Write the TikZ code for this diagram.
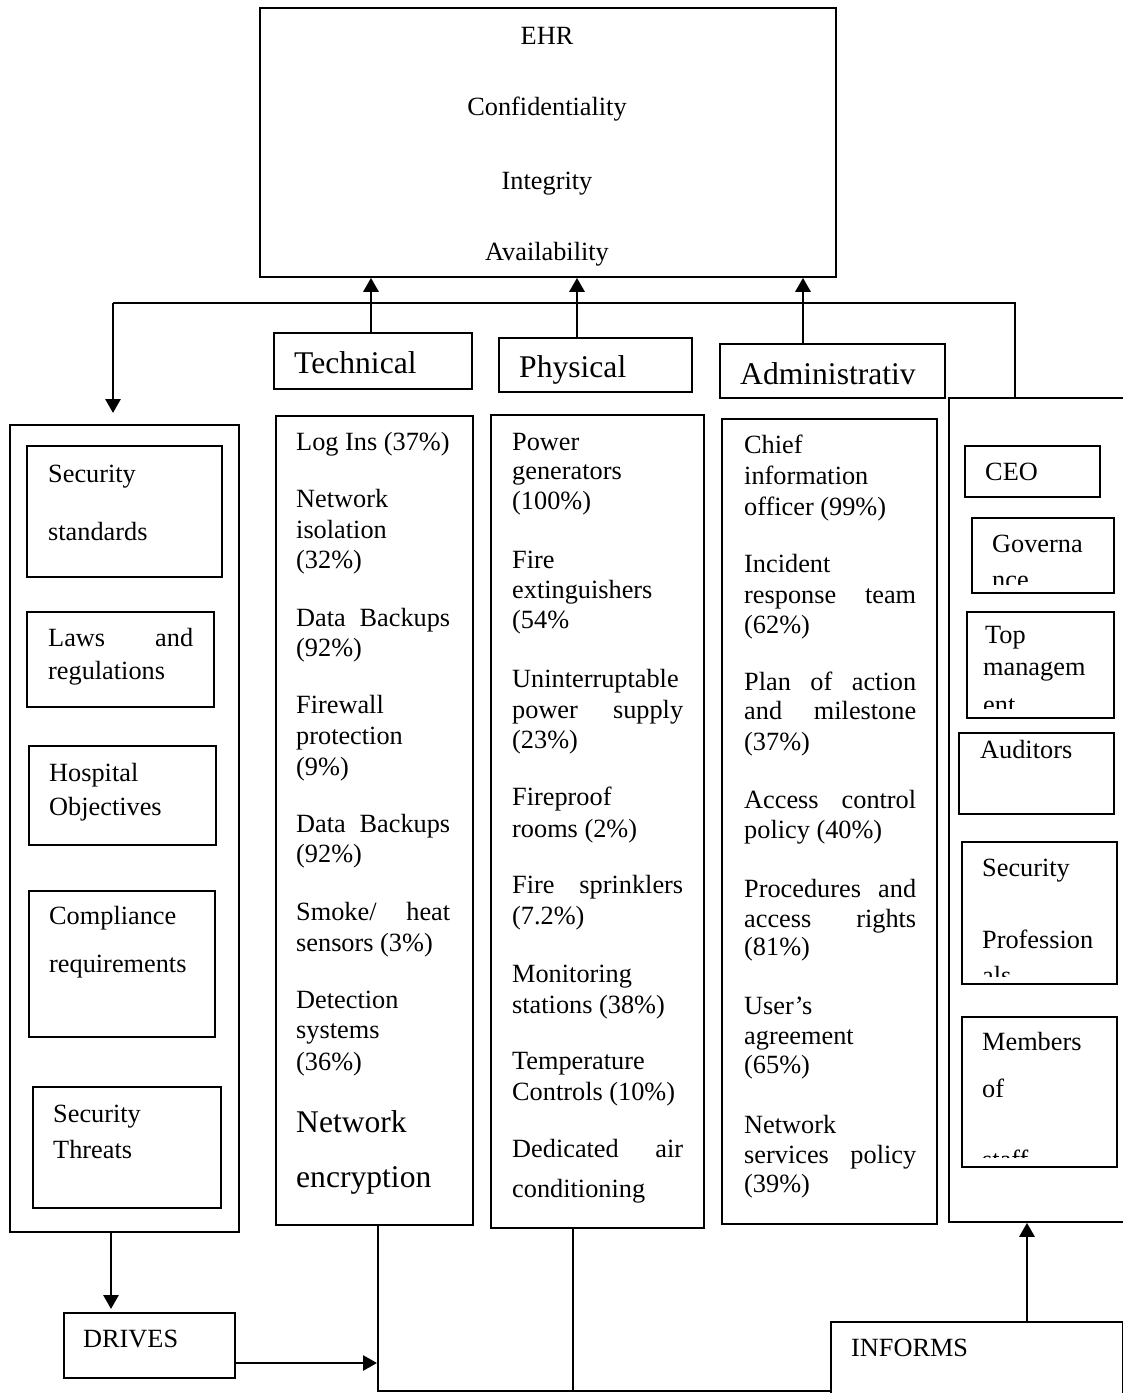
\documentclass[tikz,border=0pt]{standalone}
\usepackage{fontspec}
\setmainfont{Liberation Serif}
\usetikzlibrary{arrows.meta}

\begin{document}
\begin{tikzpicture}[x=1pt, y=-1pt,
    box/.style={draw, rectangle, line width=1.8pt, inner sep=0pt, anchor=north west},
    txt/.style={anchor=base west, inner sep=0pt, font=\fontsize{26.3}{31}\selectfont},
    head/.style={anchor=base west, inner sep=0pt, font=\fontsize{31.6}{38}\selectfont},
    arrow/.style={-{Triangle[length=14pt, width=15pt]}, line width=2.8pt},
    link/.style={line width=2pt}
  ]
  \useasboundingbox (0,0) rectangle (1123,1393);
  \clip (0,0) rectangle (1123,1393);

  % EHR goals
  \node[box, minimum width=576, minimum height=269] (ehr) at (259,7) {};
  \foreach \y/\lbl [count=\i] in {44/EHR, 115/Confidentiality, 189/Integrity, 260/Availability}
    \node[txt, anchor=base] (ehr\i) at (547,\y) {\lbl};

  % control headers
  \node[box, minimum width=198, minimum height=56] (techhead) at (273,332) {};
  \node[box, minimum width=193, minimum height=54] (physhead) at (498,337) {};
  \node[box, minimum width=225, minimum height=54] (admhead) at (719,343) {};
  \node[head] (techlbl) at (294,373) {Technical};
  \node[head] (physlbl) at (519,377) {Physical};
  \node[head] (admlbl) at (740,384) {Administrativ};

  % drivers
  \node[box, minimum width=229, minimum height=807] (drivers) at (9,424) {};
  \node[box, minimum width=195, minimum height=131] (secstd) at (26,445) {};
  \node[box, minimum width=187, minimum height=95] (laws) at (26,611) {};
  \node[box, minimum width=187, minimum height=99] (hosp) at (28,745) {};
  \node[box, minimum width=186, minimum height=146] (compl) at (28,890) {};
  \node[box, minimum width=188, minimum height=121] (threats) at (32,1086) {};
  \node[txt] (secstd1) at (48,482) {Security};
  \node[txt] (secstd2) at (48,540) {standards};
  \node[txt] (laws1) at (48,646) {\makebox[145pt][s]{Laws and}};
  \node[txt] (laws2) at (48,679) {regulations};
  \node[txt] (hosp1) at (49,781) {Hospital};
  \node[txt] (hosp2) at (49,815) {Objectives};
  \node[txt] (compl1) at (49,924) {Compliance};
  \node[txt] (compl2) at (49,972) {requirements};
  \node[txt] (threats1) at (53,1122) {Security};
  \node[txt] (threats2) at (53,1158) {Threats};

  % technical controls
  \node[box, minimum width=197, minimum height=809] (tech) at (275,415) {};
  \foreach \y/\lbl [count=\i] in {450/{Log Ins (37\%)}, 507/Network, 538/isolation, 568/{(32\%)},
      626/{\makebox[154pt][s]{Data Backups}}, 656/{(92\%)}, 713/Firewall, 744/protection, 775/{(9\%)},
      832/{\makebox[154pt][s]{Data Backups}}, 862/{(92\%)}, 920/{\makebox[154pt][s]{Smoke/ heat}},
      951/{sensors (3\%)}, 1008/Detection, 1038/systems, 1070/{(36\%)}}
    \node[txt] (tech\i) at (296,\y) {\lbl};
  \node[head] (techbig1) at (296,1132) {Network};
  \node[head] (techbig2) at (296,1187) {encryption};

  % physical controls
  \node[box, minimum width=213, minimum height=813] (phys) at (490,414) {};
  \foreach \y/\lbl [count=\i] in {450/Power, 479/generators, 509/{(100\%)}, 568/Fire, 598/extinguishers,
      628/{(54\%}, 687/Uninterruptable, 718/{\makebox[171pt][s]{power supply}}, 748/{(23\%)},
      805/Fireproof, 837/{rooms (2\%)}, 893/{\makebox[171pt][s]{Fire sprinklers}}, 924/{(7.2\%)},
      982/Monitoring, 1013/{stations (38\%)}, 1069/Temperature, 1100/{Controls (10\%)},
      1157/{\makebox[171pt][s]{Dedicated air}}, 1197/conditioning}
    \node[txt] (phys\i) at (512,\y) {\lbl};

  % administrative controls
  \node[box, minimum width=215, minimum height=805] (adm) at (721,418) {};
  \foreach \y/\lbl [count=\i] in {453/Chief, 484/information, 515/{officer (99\%)}, 572/Incident,
      603/{\makebox[172pt][s]{response team}}, 633/{(62\%)}, 690/{\makebox[172pt][s]{Plan of action}},
      719/{\makebox[172pt][s]{and milestone}}, 750/{(37\%)}, 808/{\makebox[172pt][s]{Access control}},
      838/{policy (40\%)}, 897/{\makebox[172pt][s]{Procedures and}}, 927/{\makebox[172pt][s]{access rights}},
      955/{(81\%)}, 1014/User’s, 1044/agreement, 1073/{(65\%)}, 1133/Network,
      1163/{\makebox[172pt][s]{services policy}}, 1192/{(39\%)}}
    \node[txt] (adm\i) at (744,\y) {\lbl};

  % roles
  \node[box, minimum width=200, minimum height=824] (roles) at (948,397) {};
  \node[box, minimum width=135, minimum height=51] (ceo) at (964,445) {};
  \node[txt] (ceo1) at (985,480) {CEO};
  \node[box, minimum width=142, minimum height=75] (gov) at (971,517) {};
  \begin{scope}
    \clip (gov.north west) rectangle ([yshift=9pt]gov.south east);
    \node[txt] (gov1) at (992,552) {Governa};
    \node[txt] (gov2) at (992,588) {nce};
  \end{scope}
  \node[box, minimum width=147, minimum height=106] (topm) at (966,611) {};
  \begin{scope}
    \clip (topm.north west) rectangle ([yshift=10pt]topm.south east);
    \node[txt] (topm1) at (985,643) {Top};
    \node[txt] (topm2) at (983,675) {managem};
    \node[txt] (topm3) at (983,713) {ent};
  \end{scope}
  \node[box, minimum width=155, minimum height=81] (audit) at (958,732) {};
  \node[txt] (audit1) at (980,758) {Auditors};
  \node[box, minimum width=155, minimum height=142] (secprof) at (961,841) {};
  \begin{scope}
    \clip (secprof.north west) rectangle ([yshift=8pt]secprof.south east);
    \node[txt] (secprof1) at (982,876) {Security};
    \node[txt] (secprof2) at (982,948) {Profession};
    \node[txt] (secprof3) at (982,984) {als};
  \end{scope}
  \node[box, minimum width=155, minimum height=150] (staff) at (961,1016) {};
  \begin{scope}
    \clip (staff.north west) rectangle ([yshift=10pt]staff.south east);
    \node[txt] (staff1) at (982,1050) {Members};
    \node[txt] (staff2) at (982,1097) {of};
    \node[txt] (staff3) at (982,1168) {staff};
  \end{scope}

  % bottom labels
  \node[box, minimum width=171, minimum height=65] (drives) at (63,1312) {};
  \node[txt] (drives1) at (83,1347) {DRIVES};
  \node[box, minimum width=292, minimum height=90] (informs) at (830,1321) {};
  \node[txt] (informs1) at (851,1356) {INFORMS};

  % connectors
  \coordinate (techup) at (371,0);
  \coordinate (physup) at (577,0);
  \coordinate (admup) at (803,0);
  \draw[arrow] (techhead.north -| techup) -- (ehr.south -| techup);
  \draw[arrow] (physhead.north -| physup) -- (ehr.south -| physup);
  \draw[arrow] (admhead.north -| admup) -- (ehr.south -| admup);

  \coordinate (hubR) at (1015,303);
  \coordinate (hubL) at (113,303);
  \coordinate (drvin) at (113,413);
  \draw[link] (roles.north -| hubR) -- (hubR) -- (hubL);
  \draw[arrow] (hubL) -- (drvin);

  \coordinate (lcdown) at (111,0);
  \draw[arrow, shorten >=3pt] (drivers.south -| lcdown) -- (drives.north -| lcdown);

  \coordinate (botL) at (378,1391);
  \coordinate (botP) at (573,1391);
  \coordinate (drvto) at (377,1363);
  \draw[link] (tech.south -| botL) -- (botL) -- (informs.west |- botL);
  \draw[link] (phys.south -| botP) -- (botP);
  \draw[arrow] (drives.east |- drvto) -- (drvto);

  \coordinate (infup) at (1027,0);
  \draw[arrow] (informs.north -| infup) -- (roles.south -| infup);
\end{tikzpicture}
\end{document}
